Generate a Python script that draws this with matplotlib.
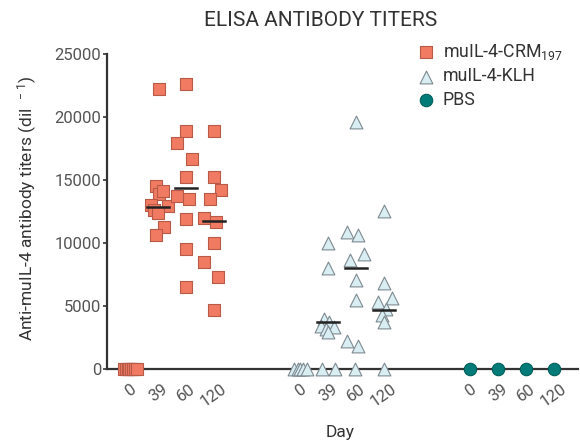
import numpy as np
import matplotlib
matplotlib.use("Agg")
import matplotlib.pyplot as plt

plt.rcParams['font.family'] = ['Roboto', 'DejaVu Sans']
plt.rcParams['mathtext.fontset'] = 'custom'
plt.rcParams['mathtext.rm'] = 'Roboto'
plt.rcParams['mathtext.it'] = 'Roboto'

# days and groups
days = ['0', '39', '60', '120']
groups = ['muIL-4-CRM$_{\\mathrm{197}}$', 'muIL-4-KLH', 'PBS']

# titers per day (dil^-1)
crm_vals = [
    [0, 0, 0, 0, 0, 0, 0, 0],
    [22200, 14500, 13900, 14100, 13000, 12600, 12900, 12400, 11300, 10600],
    [22600, 18900, 17900, 16700, 15200, 13700, 13500, 11900, 9500, 6500],
    [18900, 15200, 14200, 13500, 12000, 11700, 10000, 8500, 7300, 4700],
]
klh_vals = [
    [0, 0, 0, 0, 0],
    [10000, 8000, 4000, 3750, 3400, 3350, 3200, 2950, 0, 0],
    [19600, 10900, 10600, 9100, 8650, 7100, 5500, 2200, 1800, 0],
    [12500, 6850, 5600, 5300, 4800, 4300, 3750, 0],
]
pbs_vals = [[0], [0], [0], [0]]

# horizontal spread of points within each day (as in the reference)
crm_jit = [
    [-0.23, -0.15, -0.08, -0.02, 0.04, 0.1, 0.17, 0.24],
    [0.04, -0.07, 0.04, 0.18, -0.25, -0.14, 0.36, 0.0, 0.21, -0.07],
    [0, 0, -0.32, 0.21, 0, -0.32, 0.11, 0, 0, 0],
    [0, 0, 0.25, -0.14, -0.36, 0.07, 0, -0.36, 0.14, 0],
]
klh_jit = [
    [-0.2, -0.08, 0.02, 0.12, 0.25],
    [0, 0, -0.14, 0.04, -0.25, 0.21, -0.07, 0, -0.21, 0.25],
    [0, -0.32, 0.07, 0.29, -0.21, 0, 0, -0.32, 0.07, -0.04],
    [0, 0, 0.29, -0.21, 0.07, -0.07, 0, 0],
]
pbs_jit = [[0], [0], [0], [0]]

# median bars drawn in the reference
crm_med = [None, 12850, 14400, 11750]
klh_med = [None, 3700, 8000, 4700]
pbs_med = [None, None, None, None]

series = [
    (crm_vals, crm_jit, crm_med, 's', '#F07A62', '#B85A48', 72),
    (klh_vals, klh_jit, klh_med, '^', '#D9EEF3', '#7E8A90', 85),
    (pbs_vals, pbs_jit, pbs_med, 'o', '#007B78', '#005E5B', 80),
]
group_gap = 6.07

fig = plt.figure(figsize=(5.8, 4.47), dpi=100)
ax = fig.add_axes([107/580, 1-369/447, 471/580, 315/447])

ticks = []
ticklabels = []
for g, (vals, jit, med, mk, fc, ec, sz) in enumerate(series):
    for d in range(len(days)):
        x0 = g*group_gap + d
        xs = x0 + np.array(jit[d])
        ax.scatter(xs, vals[d], marker=mk, s=sz, facecolor=fc, edgecolor=ec,
                   linewidth=0.8, zorder=3, clip_on=False,
                   label=groups[g] if d == 0 else None)
        if med[d] is not None:
            ax.plot([x0-0.38, x0+0.38], [med[d], med[d]], color='#222222',
                    lw=1.8, zorder=4)
        ticks.append(x0)
        ticklabels.append(days[d])

ax.set_xlim(-0.82, 16.0)
ax.set_ylim(0, 25000)
ax.set_yticks(np.arange(0, 25001, 5000))
ax.set_xticks(ticks)
ax.set_xticklabels(ticklabels, rotation=35, ha='center', fontsize=12, color='#555555')
ax.tick_params(axis='x', length=0, pad=9)
ax.tick_params(axis='y', length=3, width=1.2, color='#333333', labelsize=12,
               labelcolor='#555555', pad=1)
for s in ['top', 'right']:
    ax.spines[s].set_visible(False)
for s in ['left', 'bottom']:
    ax.spines[s].set_linewidth(1.6)
    ax.spines[s].set_color('#333333')
    ax.spines[s].set_zorder(2)

fig.text(321/580, 1-20/447, 'ELISA ANTIBODY TITERS', ha='center', va='center',
         fontsize=15, color='#333333')
fig.text(27/580, 1-208/447, 'Anti-muIL-4 antibody titers (dil$^{\\ \\ -1}$)',
         rotation=90, ha='center', va='center', fontsize=12.5, color='#333333')
fig.text(340/580, 1-432/447, 'Day', ha='center', va='center', fontsize=12.5,
         color='#333333')

leg = ax.legend(loc='upper left', bbox_to_anchor=(408/580, 1-35/447),
                bbox_transform=fig.transFigure, frameon=False, fontsize=12.8,
                handletextpad=0.35, labelspacing=0.3, borderaxespad=0,
                handlelength=1.2, scatterpoints=1)
for t in leg.get_texts():
    t.set_color('#333333')

fig.savefig('out.png', dpi=100)
